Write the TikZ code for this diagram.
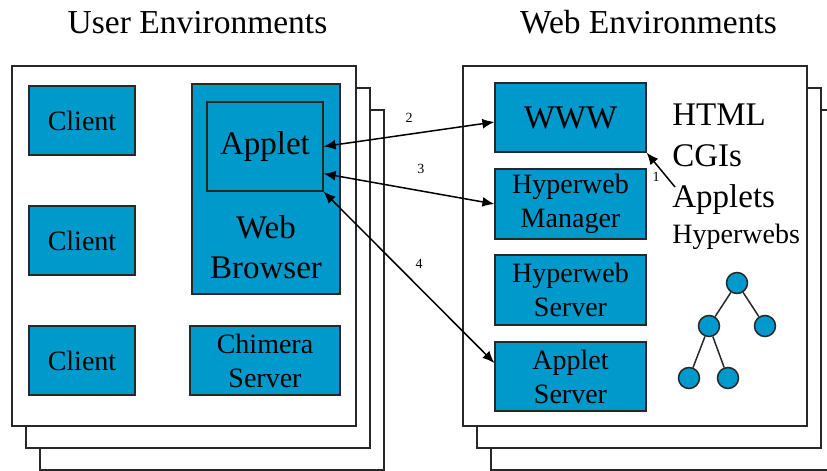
\documentclass[tikz,border=0pt]{standalone}
\usepackage{fontspec}
\setmainfont{Liberation Serif}
\usetikzlibrary{calc,arrows.meta}
\definecolor{boxblue}{RGB}{0,153,204}
\definecolor{edge}{RGB}{40,40,40}
\tikzset{
env/.style={draw=edge,fill=white,line width=0.6pt},
bluebox/.style={draw=edge,fill=boxblue,line width=0.6pt,inner sep=0pt,align=center,font=\fontsize{14}{17}\selectfont},
big/.style={font=\fontsize{16.5}{20}\selectfont},
title/.style={font=\fontsize{16.75}{20}\selectfont,anchor=base,inner sep=0pt},
num/.style={font=\fontsize{7}{8}\selectfont,inner sep=0pt},
leaf/.style={circle,draw=edge,fill=boxblue,line width=0.75pt,minimum size=10.5pt,inner sep=0pt},
link/.style={line width=0.75pt,>={Latex[length=6pt,width=5pt]}}
}
\begin{document}
\begin{tikzpicture}[x=0.5pt,y=-0.5pt]
\useasboundingbox (0,0) rectangle (827,471);
\foreach \dx/\dy in {28/44,14/22,0/0} {
\draw[env] (12+\dx,66+\dy) rectangle (356+\dx,426+\dy);
\draw[env] (463+\dx,66+\dy) rectangle (807+\dx,426+\dy);}
\node[title] (usr) at (197.5,33) {User Environments};
\node[title] (web) at (648.5,33) {Web Environments};
\foreach \n/\y in {c1/120.5,c2/240.5,c3/360.5}
\node[bluebox,minimum width=53pt,minimum height=34.5pt] (\n) at (82,\y) {Client};
\node[bluebox,minimum width=74pt,minimum height=105pt] (brw) at (266,189) {};
\node[bluebox,big,minimum width=58pt,minimum height=44.5pt] (applet) at (265,146.5) {Applet};
\node[big,align=center] (brwtxt) at (266,247) {Web\\Browser};
\node[bluebox,minimum width=75pt,minimum height=34.5pt] (chim) at (265,360.5) {Chimera\\Server};
\node[bluebox,big,minimum width=75.5pt,minimum height=34.5pt] (www) at (570.5,117.5) {WWW};
\node[bluebox,minimum width=75.5pt,minimum height=35pt] (mgr) at (570.5,204) {Hyperweb\\Manager};
\node[bluebox,minimum width=75.5pt,minimum height=35pt] (hsrv) at (570.5,290) {Hyperweb\\Server};
\node[bluebox,minimum width=75.5pt,minimum height=34.5pt] (asrv) at (570.5,376.5) {Applet\\Server};
\node[big,anchor=base west,inner sep=0pt] (html) at (672,126) {HTML};
\node[big,anchor=base west,inner sep=0pt] (cgi) at (672,166) {CGIs};
\node[big,anchor=base west,inner sep=0pt] (apps) at (672,207) {Applets};
\node[anchor=base west,inner sep=0pt,font=\fontsize{14}{17}\selectfont] (hwebs) at (672,243) {Hyperwebs};
\node[leaf] (t0) at (737,283) {};
\node[leaf] (t1) at (709,326) {};
\node[leaf] (t2) at (765,326) {};
\node[leaf] (t3) at (689,378) {};
\node[leaf] (t4) at (728,378) {};
\foreach \a/\b in {t0/t1,t0/t2,t1/t3,t1/t4}
\draw[edge,line width=0.75pt] (\a)--(\b);
\coordinate (p1) at ($(apps.base west)+(3,-20)$);
\draw[link,->] (p1)--node[num,pos=0.3,left=3pt]{1}(www.south east);
\draw[link,<->] (applet.east)--node[num,pos=0.5,above=5.5pt]{2}([yshift=-2.25pt]www.west);
\draw[link,<->] ([yshift=9pt]applet.south east)--node[num,pos=0.57,above=8.5pt]{3}(mgr.west);
\draw[link,<->] (applet.south east)--node[num,pos=0.56,above=9pt]{4}([yshift=6.75pt]asrv.west);
\end{tikzpicture}
\end{document}
